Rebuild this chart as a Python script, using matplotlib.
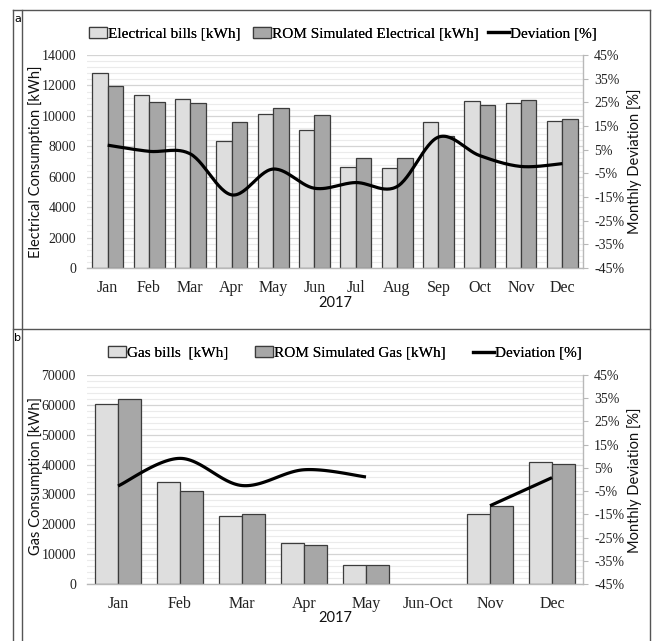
import numpy as np
import matplotlib
matplotlib.use("Agg")
import matplotlib.pyplot as plt
from matplotlib.lines import Line2D
from matplotlib.patches import Patch
from matplotlib.ticker import MultipleLocator, FixedLocator

# ---------------- data ----------------
elec_months = ["Jan", "Feb", "Mar", "Apr", "May", "Jun",
               "Jul", "Aug", "Sep", "Oct", "Nov", "Dec"]
elec_bills = [12800, 11350, 11090, 8380, 10140, 9080,
              6640, 6590, 9570, 11000, 10820, 9630]
elec_sim = [11930, 10900, 10870, 9570, 10490, 10070,
            7230, 7230, 8660, 10710, 11040, 9770]
elec_dev = [6.9, 4.3, 3.2, -14.1, -3.2, -11.3,
            -8.9, -10.6, 10.3, 2.5, -2.1, -0.9]

gas_months = ["Jan", "Feb", "Mar", "Apr", "May", "Jun-Oct", "Nov", "Dec"]
gas_bills = [60300, 34300, 22900, 13700, 6250, np.nan, 23300, 40750]
gas_sim = [61950, 31250, 23300, 13200, 6250, np.nan, 26000, 40300]
gas_dev = [-2.8, 9.1, -2.6, 4.2, 1.1, np.nan, -11.3, 0.8]

dev_ticks = [-45, -35, -25, -15, -5, 5, 15, 25, 35, 45]

# ---------------- style ----------------
SERIF = "Liberation Serif"
SANS = "Lato"
BILL_COLOR = "#dedede"
SIM_COLOR = "#a7a7a7"
EDGE = "#3c3c3c"
MAJOR_GRID = "#d4d4d4"
MINOR_GRID = "#ebebeb"
AXIS_GRAY = "#b8b8b8"

W, H = 654, 641
fig = plt.figure(figsize=(W / 100, H / 100), dpi=100)


def fx(px):
    return px / W


def fy(py):
    return 1 - py / H


def smooth_curve(x, y, samples=30):
    """Cubic Bezier smoothing through the points (Excel-style smoothed line)."""
    x = np.asarray(x, float)
    y = np.asarray(y, float)
    n = len(x)
    if n < 3:
        return x, y
    xs, ys = [], []
    for i in range(n - 1):
        p0 = np.array([x[max(i - 1, 0)], y[max(i - 1, 0)]])
        p1 = np.array([x[i], y[i]])
        p2 = np.array([x[i + 1], y[i + 1]])
        p3 = np.array([x[min(i + 2, n - 1)], y[min(i + 2, n - 1)]])
        c1 = p1 + (p2 - p0) / 6.0
        c2 = p2 - (p3 - p1) / 6.0
        t = np.linspace(0, 1, samples)[:, None]
        pts = ((1 - t) ** 3) * p1 + 3 * ((1 - t) ** 2) * t * c1 \
            + 3 * (1 - t) * t ** 2 * c2 + t ** 3 * p2
        if i > 0:
            pts = pts[1:]
        xs.append(pts[:, 0])
        ys.append(pts[:, 1])
    return np.concatenate(xs), np.concatenate(ys)


def legend_item(handle, label, left_px, y_px, hlen):
    """One legend entry whose handle starts at the given pixel column."""
    leg = fig.legend([handle], [label], loc="center left",
                     bbox_to_anchor=(fx(left_px), fy(y_px)), frameon=False,
                     prop={"family": SERIF, "size": 11}, handlelength=hlen,
                     handleheight=0.72, handletextpad=0.1, borderpad=0,
                     borderaxespad=0)
    fig.add_artist(leg)


def draw_panel(ax, months, bills, sim, dev, ymax, ymajor, yminor, bar_w,
               ylabel, ylabel_y, rlabel_y, legend_labels, legend_x, legend_y):
    x = np.arange(len(months))
    bills = np.asarray(bills, float)
    sim = np.asarray(sim, float)
    ok = ~np.isnan(bills)
    ax.bar(x[ok] - bar_w / 2, bills[ok], width=bar_w, color=BILL_COLOR,
           edgecolor=EDGE, linewidth=0.9, zorder=3)
    ax.bar(x[ok] + bar_w / 2, sim[ok], width=bar_w, color=SIM_COLOR,
           edgecolor=EDGE, linewidth=0.9, zorder=3)

    ax.set_xlim(-0.5, len(months) - 0.5)
    ax.set_ylim(0, ymax)
    ax.yaxis.set_major_locator(MultipleLocator(ymajor))
    ax.yaxis.set_minor_locator(MultipleLocator(yminor))
    ax.grid(axis="y", which="major", color=MAJOR_GRID, linewidth=0.9, zorder=0)
    ax.grid(axis="y", which="minor", color=MINOR_GRID, linewidth=0.8, zorder=0)
    ax.set_axisbelow(True)
    for s in ("top", "right", "left"):
        ax.spines[s].set_visible(False)
    ax.spines["bottom"].set_color(AXIS_GRAY)
    ax.spines["bottom"].set_linewidth(1.0)
    ax.spines["bottom"].set_zorder(4)

    ax.set_xticks(x)
    ax.set_xticklabels(months, fontfamily=SERIF, fontsize=11.5, color="#222222")
    ax.tick_params(axis="x", length=0, pad=9)
    ax.tick_params(axis="y", which="both", length=0, pad=8)
    for lbl in ax.get_yticklabels():
        lbl.set_fontfamily(SERIF)
        lbl.set_fontsize(10)
        lbl.set_color("#222222")
    ax.set_ylabel(ylabel, fontfamily=SANS, fontsize=10.5, color="#111111")
    ax.yaxis.set_label_coords(-0.089, ylabel_y)
    ax.text(0.5, -0.165, "2017", transform=ax.transAxes, ha="center",
            va="center", fontfamily=SANS, fontsize=10.5, color="#111111")

    # deviation on the secondary axis
    ax2 = ax.twinx()
    ax2.set_ylim(-45, 45)
    ax2.yaxis.set_major_locator(FixedLocator(dev_ticks))
    ax2.set_yticklabels([f"{t}%" for t in dev_ticks], fontfamily=SERIF,
                        fontsize=10, color="#222222")
    ax2.tick_params(axis="y", length=3.5, width=0.8, color=AXIS_GRAY, pad=4.5)
    for s in ("top", "left", "bottom"):
        ax2.spines[s].set_visible(False)
    ax2.spines["right"].set_color(AXIS_GRAY)
    ax2.spines["right"].set_linewidth(1.0)
    ax2.set_ylabel("Monthly Deviation [%]", fontfamily=SANS, fontsize=10.5,
                   color="#111111", rotation=90)
    ax2.yaxis.set_label_coords(1.089, rlabel_y)

    dev = np.asarray(dev, float)
    valid = ~np.isnan(dev)
    # split into runs of consecutive valid months
    runs, cur = [], []
    for i in range(len(dev)):
        if valid[i]:
            cur.append(i)
        elif cur:
            runs.append(cur)
            cur = []
    if cur:
        runs.append(cur)
    for r in runs:
        sx, sy = smooth_curve(x[r], dev[r])
        ax2.plot(sx, sy, color="black", linewidth=2.3, solid_capstyle="butt",
                 zorder=5)

    handles = [Patch(facecolor=BILL_COLOR, edgecolor=EDGE, linewidth=0.9),
               Patch(facecolor=SIM_COLOR, edgecolor=EDGE, linewidth=0.9),
               Line2D([0], [0], color="black", linewidth=2.3)]
    hlens = [1.15, 1.15, 1.35]
    for h, lab, lx, hl in zip(handles, legend_labels, legend_x, hlens):
        legend_item(h, lab, lx, legend_y, hl)
    return ax2


ax_a = fig.add_axes([fx(87), fy(268), fx(583) - fx(87), fy(55) - fy(268)])
ax_b = fig.add_axes([fx(87), fy(584), fx(583) - fx(87), fy(375) - fy(584)])

draw_panel(ax_a, elec_months, elec_bills, elec_sim, elec_dev,
           14000, 2000, 400, 0.375, "Electrical Consumption [kWh]", 0.5, 0.5,
           ["Electrical bills [kWh]", "ROM Simulated Electrical [kWh]",
            "Deviation [%]"], [89, 253, 488], 34)
draw_panel(ax_b, gas_months, gas_bills, gas_sim, gas_dev,
           70000, 10000, 2000, 0.366, "Gas Consumption [kWh]", 0.517, 0.497,
           ["Gas bills  [kWh]", "ROM Simulated Gas [kWh]", "Deviation [%]"],
           [108, 255, 473], 353)

# panel frame
frame = dict(color="#555555", linewidth=1.0, transform=fig.transFigure)
fig.add_artist(Line2D([fx(13), fx(650)], [fy(10), fy(10)], **frame))
fig.add_artist(Line2D([fx(13), fx(650)], [fy(329), fy(329)], **frame))
fig.add_artist(Line2D([fx(13), fx(13)], [fy(10), 0], **frame))
fig.add_artist(Line2D([fx(22), fx(22)], [fy(10), 0], **frame))
fig.add_artist(Line2D([fx(650), fx(650)], [fy(10), 0], **frame))
fig.text(fx(17.5), fy(19), "a", ha="center", va="center", fontsize=8,
         fontfamily="DejaVu Sans")
fig.text(fx(17.5), fy(338), "b", ha="center", va="center", fontsize=8,
         fontfamily="DejaVu Sans")

fig.savefig("out.png", dpi=100, facecolor="white")
